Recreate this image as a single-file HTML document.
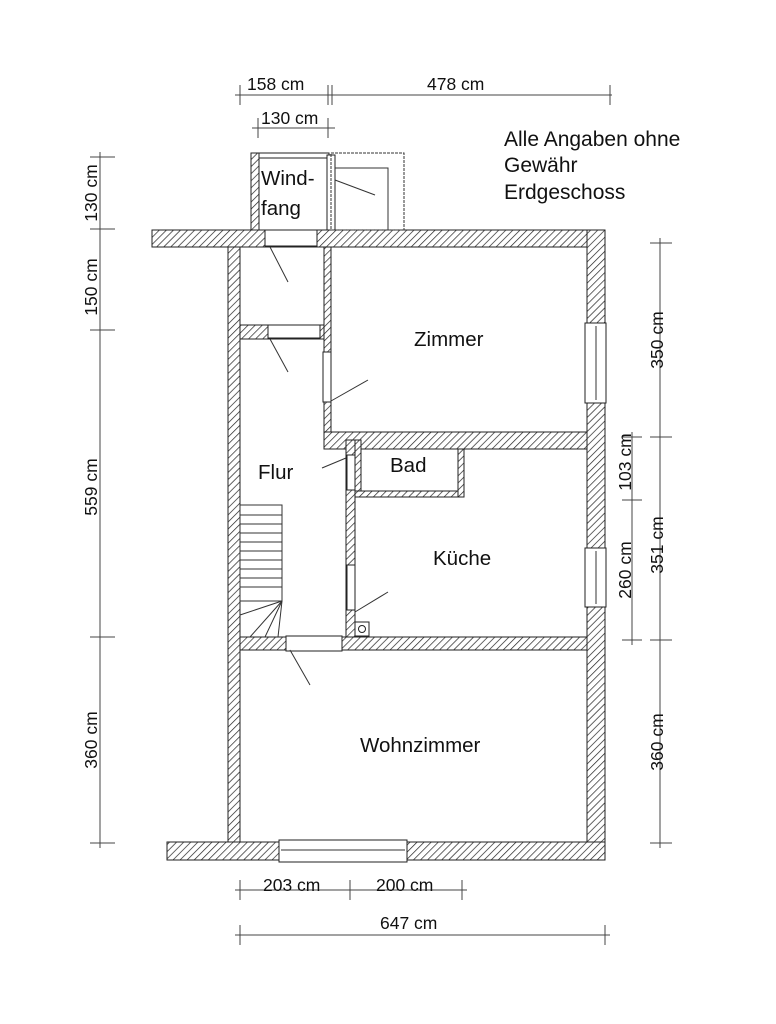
<!DOCTYPE html>
<html><head><meta charset="utf-8"><style>
html,body{margin:0;padding:0;background:#fff;}
svg{display:block;}
text{font-family:"Liberation Sans",sans-serif;fill:#111;}
</style></head><body>
<svg width="776" height="1024" viewBox="0 0 776 1024" xmlns="http://www.w3.org/2000/svg">
<defs>
<pattern id="h" patternUnits="userSpaceOnUse" width="5" height="5" patternTransform="rotate(45)">
<rect width="5" height="5" fill="#fff"/><line x1="0" y1="0" x2="0" y2="5" stroke="#222" stroke-width="1.4"/>
</pattern>
</defs>
<g stroke="#222" stroke-width="1" fill="url(#h)">
<rect x="152" y="230" width="453" height="17"/>
<rect x="587" y="230" width="18" height="630"/>
<rect x="167" y="842" width="438" height="18"/>
<rect x="228" y="247" width="12" height="595"/>
<rect x="251" y="153" width="8" height="77"/>
<rect x="324" y="247" width="7" height="190"/>
<rect x="240" y="325" width="84" height="14"/>
<rect x="324" y="432" width="263" height="17"/>
<rect x="346" y="440" width="9" height="198"/>
<rect x="240" y="637" width="347" height="13"/>
<rect x="355" y="440" width="6" height="57"/>
<rect x="355" y="491" width="108" height="6"/>
<rect x="458" y="449" width="6" height="48"/>
</g>
<g fill="#fff" stroke="#222" stroke-width="1">
<rect x="259" y="153" width="70" height="5"/>
<rect x="265" y="230" width="52" height="16"/>
<rect x="268" y="325" width="52" height="13"/>
<rect x="323" y="352" width="8" height="50"/>
<rect x="585" y="323" width="21" height="80"/>
<rect x="585" y="548" width="21" height="59"/>
<rect x="286" y="636" width="56" height="15"/>
<rect x="347" y="455" width="8" height="35"/>
<rect x="347" y="565" width="8" height="45"/>
<rect x="279" y="840" width="128" height="22"/>
<rect x="327" y="155" width="8" height="75"/>
<rect x="355" y="622" width="14" height="14"/>
</g>
<circle cx="362" cy="629" r="3.5" fill="none" stroke="#222"/>
<g fill="none" stroke="#333" stroke-width="1">
<rect x="331" y="153" width="73" height="77" stroke-dasharray="3,1"/>
<polyline points="335,168 388,168 388,230"/>
<line x1="596" y1="326" x2="596" y2="400"/><line x1="596" y1="551" x2="596" y2="604"/>
<line x1="281" y1="850" x2="405" y2="850"/>
<line x1="270" y1="247" x2="288" y2="282"/>
<line x1="270" y1="339" x2="288" y2="372"/>
<line x1="331" y1="401" x2="368" y2="380"/>
<line x1="355" y1="612" x2="388" y2="592"/>
<line x1="346" y1="458" x2="322" y2="468"/>
<line x1="290" y1="650" x2="310" y2="685"/>
<line x1="335" y1="180" x2="375" y2="195"/>
<rect x="240" y="505" width="42" height="96"/>
<line x1="240" y1="515" x2="282" y2="515"/><line x1="240" y1="524" x2="282" y2="524"/>
<line x1="240" y1="533" x2="282" y2="533"/><line x1="240" y1="542" x2="282" y2="542"/>
<line x1="240" y1="551" x2="282" y2="551"/><line x1="240" y1="560" x2="282" y2="560"/>
<line x1="240" y1="569" x2="282" y2="569"/><line x1="240" y1="578" x2="282" y2="578"/>
<line x1="240" y1="587" x2="282" y2="587"/>
<line x1="282" y1="601" x2="240" y2="615"/><line x1="282" y1="601" x2="250" y2="637"/>
<line x1="282" y1="601" x2="265" y2="637"/><line x1="282" y1="601" x2="278" y2="637"/>
</g>
<g stroke="#444" stroke-width="1" fill="none">
<line x1="235" y1="95" x2="612" y2="95"/>
<line x1="240" y1="85" x2="240" y2="105"/><line x1="328" y1="85" x2="328" y2="105"/><line x1="332" y1="85" x2="332" y2="105"/><line x1="610" y1="85" x2="610" y2="105"/>
<line x1="252" y1="128" x2="335" y2="128"/><line x1="258" y1="118" x2="258" y2="138"/><line x1="328" y1="118" x2="328" y2="138"/>
<line x1="100" y1="152" x2="100" y2="848"/>
<line x1="90" y1="157" x2="115" y2="157"/><line x1="90" y1="229" x2="115" y2="229"/><line x1="90" y1="330" x2="115" y2="330"/><line x1="90" y1="637" x2="115" y2="637"/><line x1="90" y1="843" x2="115" y2="843"/>
<line x1="660" y1="238" x2="660" y2="848"/>
<line x1="650" y1="243" x2="672" y2="243"/><line x1="650" y1="437" x2="672" y2="437"/><line x1="650" y1="640" x2="672" y2="640"/><line x1="650" y1="843" x2="672" y2="843"/>
<line x1="632" y1="432" x2="632" y2="645"/>
<line x1="622" y1="437" x2="642" y2="437"/><line x1="622" y1="500" x2="642" y2="500"/><line x1="622" y1="640" x2="642" y2="640"/>
<line x1="235" y1="890" x2="467" y2="890"/><line x1="240" y1="880" x2="240" y2="900"/><line x1="350" y1="880" x2="350" y2="900"/><line x1="462" y1="880" x2="462" y2="900"/>
<line x1="235" y1="935" x2="610" y2="935"/><line x1="240" y1="925" x2="240" y2="945"/><line x1="605" y1="925" x2="605" y2="945"/>
</g>
<g font-size="17.5">
<text x="247" y="90">158 cm</text><text x="427" y="90">478 cm</text>
<text x="261" y="124">130 cm</text>
<text x="263" y="891">203 cm</text><text x="376" y="891">200 cm</text><text x="380" y="929">647 cm</text>
<text transform="translate(97,193) rotate(-90)" text-anchor="middle">130 cm</text>
<text transform="translate(97,287) rotate(-90)" text-anchor="middle">150 cm</text>
<text transform="translate(97,487) rotate(-90)" text-anchor="middle">559 cm</text>
<text transform="translate(97,740) rotate(-90)" text-anchor="middle">360 cm</text>
<text transform="translate(663,340) rotate(-90)" text-anchor="middle">350 cm</text>
<text transform="translate(663,545) rotate(-90)" text-anchor="middle">351 cm</text>
<text transform="translate(663,742) rotate(-90)" text-anchor="middle">360 cm</text>
<text transform="translate(631,462) rotate(-90)" text-anchor="middle">103 cm</text>
<text transform="translate(631,570) rotate(-90)" text-anchor="middle">260 cm</text>
</g>
<g font-size="20.5">
<text x="504" y="146" font-size="21">Alle Angaben ohne</text><text x="504" y="172" font-size="21">Gewähr</text><text x="504" y="199" font-size="21">Erdgeschoss</text>
<text x="261" y="185">Wind-</text><text x="261" y="215">fang</text>
<text x="414" y="346">Zimmer</text>
<text x="258" y="479">Flur</text>
<text x="390" y="472">Bad</text>
<text x="433" y="565">Küche</text>
<text x="360" y="752">Wohnzimmer</text>
</g>
</svg>
</body></html>
